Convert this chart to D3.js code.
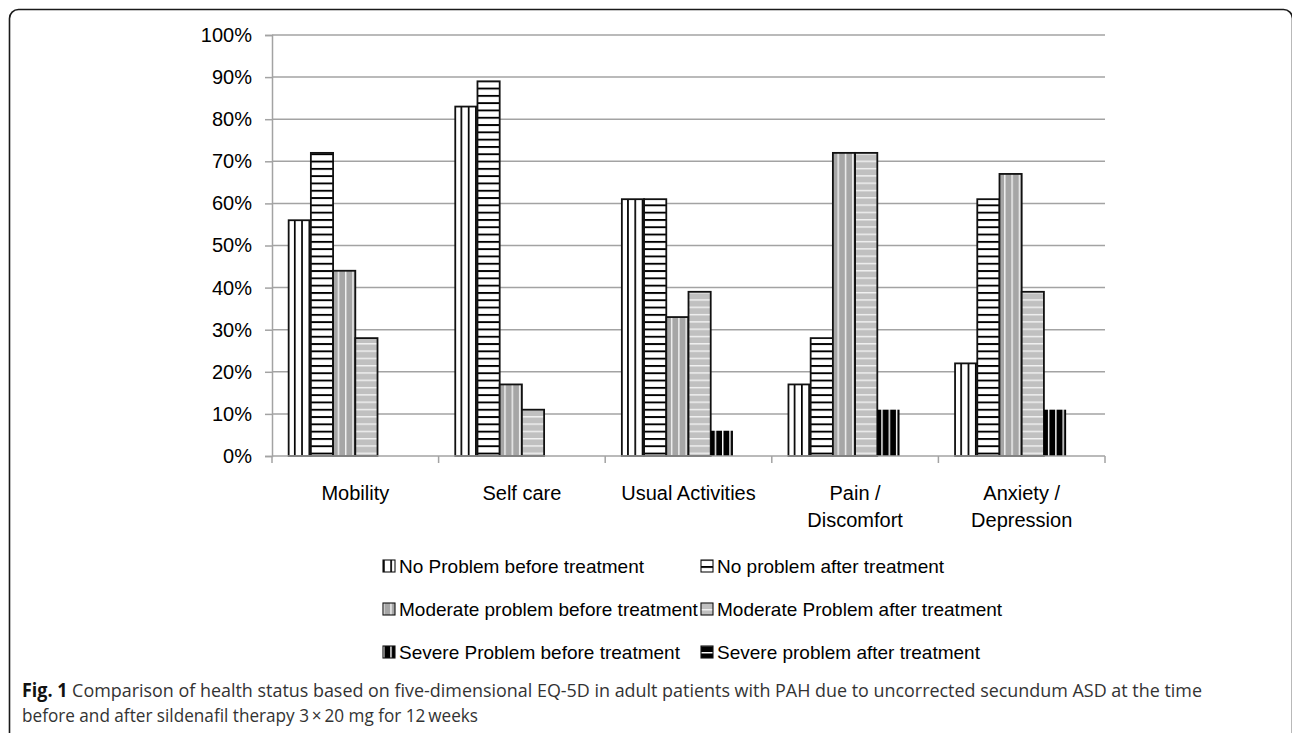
<!DOCTYPE html>
<html>
<head>
<meta charset="utf-8">
<script src="https://cdn.jsdelivr.net/npm/d3@7"></script>
<style>
  html, body { margin: 0; padding: 0; background: #fff; }
  svg { display: block; }
</style>
</head>
<body>
<svg id="chart" width="1292" height="733"></svg>
<script>
// EQ-5D dimensions and the share of patients in each response group
const categories = [["Mobility"], ["Self care"], ["Usual Activities"], ["Pain /", "Discomfort"], ["Anxiety /", "Depression"]];
const seriesNames = [
  "No Problem before treatment",
  "No problem after treatment",
  "Moderate problem before treatment",
  "Moderate Problem after treatment",
  "Severe Problem before treatment",
  "Severe problem after treatment"
];
const noProblemBefore = [56, 83, 61, 17, 22];
const noProblemAfter = [72, 89, 61, 28, 61];
const moderateBefore = [44, 17, 33, 72, 67];
const moderateAfter = [28, 11, 39, 72, 39];
const severeBefore = [0, 0, 6, 11, 11];
const severeAfter = [0, 0, 0, 0, 0];
const yTicks = [0, 10, 20, 30, 40, 50, 60, 70, 80, 90, 100];
const captionBold = "Fig. 1";
const captionLines = [
  "Comparison of health status based on five-dimensional EQ-5D in adult patients with PAH due to uncorrected secundum ASD at the time",
  "before and after sildenafil therapy 3\u2009\u00d7\u200920 mg for 12\u2009weeks"
];

const seriesValues = [noProblemBefore, noProblemAfter, moderateBefore, moderateAfter, severeBefore, severeAfter];

const svg = d3.select("#chart");
const chartFont = "'Liberation Sans', Arial, sans-serif";

// hatch fills
const defs = svg.append("defs");
function hatch(id, bg, fg, vertical, step, lw) {
  const p = defs.append("pattern").attr("id", id)
    .attr("patternUnits", "userSpaceOnUse").attr("width", step).attr("height", step);
  p.append("rect").attr("width", step).attr("height", step).attr("fill", bg);
  if (vertical) p.append("rect").attr("x", 0).attr("y", 0).attr("width", lw).attr("height", step).attr("fill", fg);
  else p.append("rect").attr("x", 0).attr("y", 0).attr("width", step).attr("height", lw).attr("fill", fg);
}
hatch("p0", "#ffffff", "#000000", true, 7.3, 1.7);
hatch("p1", "#ffffff", "#000000", false, 7.3, 1.9);
hatch("p2", "#a6a6a6", "#f2f2f2", true, 7.3, 1.4);
hatch("p3", "#c0c0c0", "#f2f2f2", false, 7.3, 1.4);
hatch("p4", "#000000", "#ffffff", true, 7.3, 1.4);
hatch("p5", "#000000", "#ffffff", false, 7.3, 1.4);
const fills = ["url(#p0)", "url(#p1)", "url(#p2)", "url(#p3)", "url(#p4)", "url(#p5)"];

// frame around the figure
svg.append("rect").attr("x", 9.5).attr("y", 9.5).attr("width", 1283).attr("height", 760)
  .attr("rx", 9).attr("fill", "none").attr("stroke", "#1a1a1a").attr("stroke-width", 1.6);

const plot = { left: 272, right: 1105, top: 35, bottom: 456 };

const x0 = d3.scaleBand().domain(d3.range(categories.length)).range([plot.left, plot.right]).paddingInner(0).paddingOuter(0);
// 150% gap width: the six bars take 6 of 7.5 bar widths, centred in each category
const x1 = d3.scaleBand().domain(d3.range(seriesNames.length))
  .range([x0.bandwidth() * 0.75 / 7.5, x0.bandwidth() * 6.75 / 7.5]).padding(0);
const y = d3.scaleLinear().domain([0, 100]).range([plot.bottom, plot.top]);

// gridlines
svg.append("g").selectAll("line").data(yTicks.filter(t => t > 0)).join("line")
  .attr("x1", plot.left).attr("x2", plot.right)
  .attr("y1", d => y(d)).attr("y2", d => y(d))
  .attr("stroke", "#a3a3a3").attr("stroke-width", 1.5);

// y axis
const yAxis = svg.append("g").attr("transform", `translate(${plot.left},0)`)
  .call(d3.axisLeft(y).tickValues(yTicks).tickSize(7).tickPadding(13).tickFormat(d => d + "%"));
yAxis.select(".domain").attr("stroke", "#a3a3a3").attr("stroke-width", 1.5);
yAxis.selectAll(".tick line").attr("stroke", "#a3a3a3").attr("stroke-width", 1.5);
yAxis.selectAll(".tick text").attr("font-family", chartFont).attr("font-size", 20).attr("fill", "#000");

// bars
const groups = svg.append("g").selectAll("g").data(categories.map((c, i) => i)).join("g")
  .attr("transform", i => `translate(${x0(i)},0)`);
groups.selectAll("rect").data(ci => seriesValues.map((vals, si) => ({ si, v: vals[ci] })).filter(d => d.v > 0)).join("rect")
  .attr("x", d => x1(d.si))
  .attr("y", d => y(d.v))
  .attr("width", x1.bandwidth())
  .attr("height", d => y(0) - y(d.v))
  .attr("fill", d => fills[d.si])
  .attr("stroke", d => d.si >= 4 ? "none" : "#111")
  .attr("stroke-width", 1.8);

// x axis with boundary ticks
const xg = svg.append("g");
xg.append("line").attr("x1", plot.left).attr("x2", plot.right).attr("y1", plot.bottom).attr("y2", plot.bottom)
  .attr("stroke", "#a3a3a3").attr("stroke-width", 1.5);
xg.selectAll("line.b").data(d3.range(categories.length + 1)).join("line").attr("class", "b")
  .attr("x1", i => plot.left + i * x0.bandwidth()).attr("x2", i => plot.left + i * x0.bandwidth())
  .attr("y1", plot.bottom).attr("y2", plot.bottom + 7)
  .attr("stroke", "#a3a3a3").attr("stroke-width", 1.5);
const labels = xg.selectAll("text").data(categories).join("text")
  .attr("x", (d, i) => x0(i) + x0.bandwidth() / 2)
  .attr("y", 500)
  .attr("text-anchor", "middle")
  .attr("font-family", chartFont).attr("font-size", 20).attr("fill", "#000");
labels.selectAll("tspan").data(d => d).join("tspan")
  .attr("x", function () { return this.parentNode.getAttribute("x"); })
  .attr("dy", (d, i) => i === 0 ? 0 : 27)
  .text(d => d);

// legend: two columns, three rows
const legendCols = [383, 701];
const legendRows = [566, 609, 652];
const leg = svg.append("g").selectAll("g").data(seriesNames).join("g")
  .attr("transform", (d, i) => `translate(${legendCols[i % 2]},${legendRows[Math.floor(i / 2)]})`);
leg.append("rect").attr("x", 0).attr("y", -6).attr("width", 12).attr("height", 12)
  .attr("fill", (d, i) => fills[i]).attr("stroke", "#111").attr("stroke-width", 1.1);
leg.append("text").attr("x", 16).attr("y", 0).attr("dy", "0.35em")
  .attr("font-family", chartFont).attr("font-size", 19).attr("fill", "#000")
  .text(d => d);

// caption
const cap = svg.append("g").attr("font-family", "'Open Sans', sans-serif").attr("fill", "#333");
const l1 = cap.append("text").attr("x", 22).attr("y", 697).attr("font-size", 19)
  .attr("textLength", 1180).attr("lengthAdjust", "spacingAndGlyphs");
l1.append("tspan").attr("font-weight", "bold").attr("fill", "#111").text(captionBold);
l1.append("tspan").text(" " + captionLines[0]);
cap.append("text").attr("x", 22).attr("y", 722).attr("font-size", 19)
  .attr("textLength", 456).attr("lengthAdjust", "spacingAndGlyphs")
  .text(captionLines[1]);
</script>
</body>
</html>
